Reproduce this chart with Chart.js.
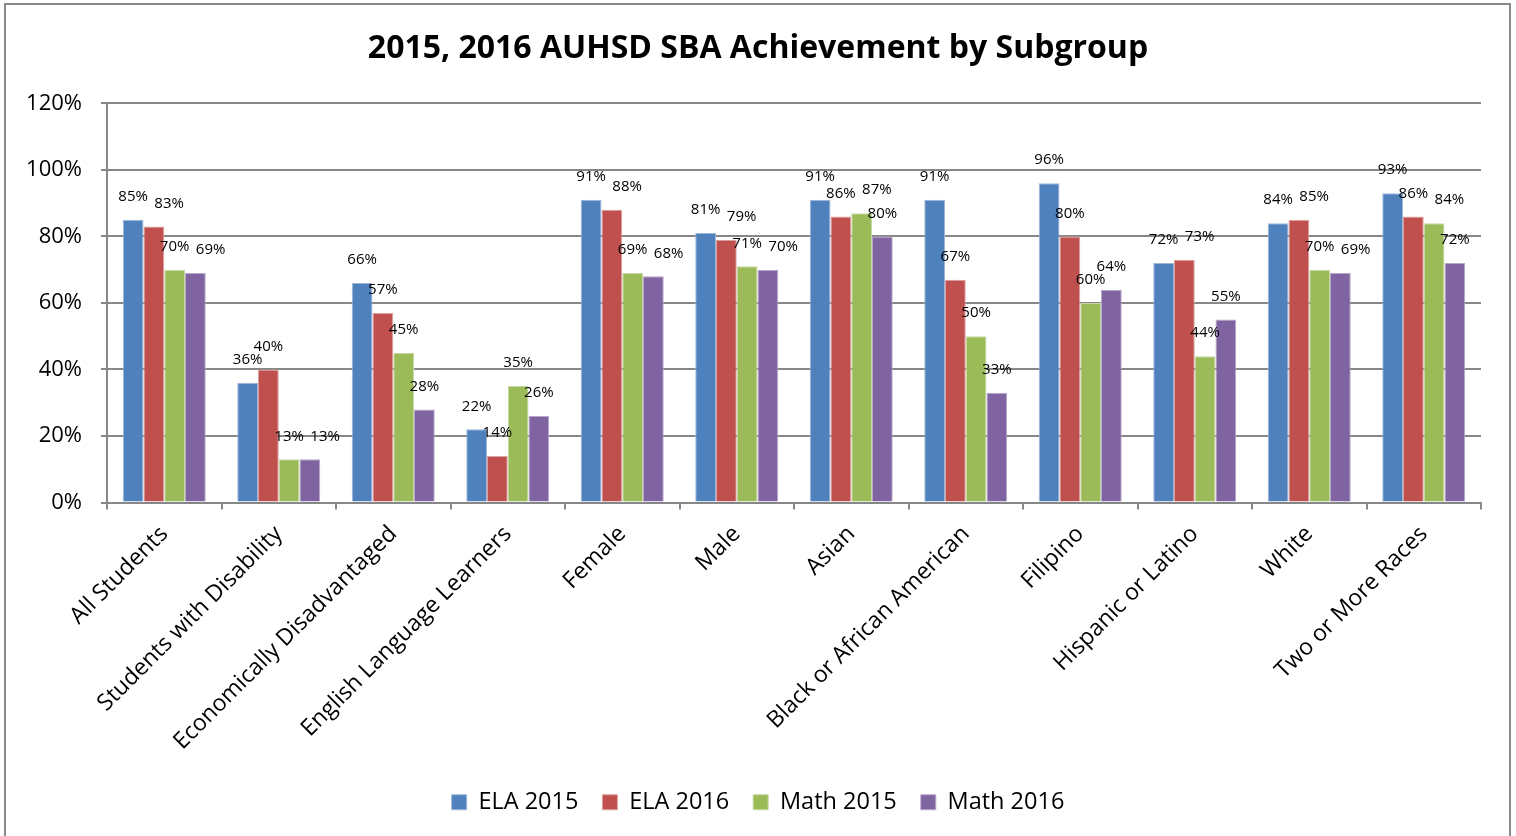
<!DOCTYPE html>
<html>
<head>
<meta charset="utf-8">
<script src="https://cdn.jsdelivr.net/npm/chart.js@4.4.1/dist/chart.umd.min.js"></script>
<style>
html,body{margin:0;padding:0;background:#fff;}
#wrap{width:1516px;height:836px;position:relative;}
</style>
</head>
<body>
<div id="wrap"><canvas id="c" width="1516" height="836"></canvas></div>
<script>
const categories = ["All Students","Students with Disability","Economically Disadvantaged","English Language Learners","Female","Male","Asian","Black or African American","Filipino","Hispanic or Latino","White","Two or More Races"];
const ela2015  = [85,36,66,22,91,81,91,91,96,72,84,93];
const ela2016  = [83,40,57,14,88,79,86,67,80,73,85,86];
const math2015 = [70,13,45,35,69,71,87,50,60,44,70,84];
const math2016 = [69,13,28,26,68,70,80,33,64,55,69,72];
const seriesNames = ["ELA 2015","ELA 2016","Math 2015","Math 2016"];
const yTicks = [0,20,40,60,80,100,120];

const colors = ['#4F81BD','#C0504D','#9BBB59','#8064A2'];
const borders = ['#9DB6D8','#DCA2A0','#C6D9A4','#B7A7CA'];
const FONT = '"Open Sans", sans-serif';
const GRID = '#878787';

const frame = {
  id:'frame',
  beforeDraw(chart){
    const c = chart.ctx;
    c.save();
    c.fillStyle='#fff';
    c.fillRect(0,0,chart.width,chart.height);
    c.strokeStyle='#8a8a8a';
    c.lineWidth=2;
    c.strokeRect(5,4,1505,850);
    c.restore();
  }
};

// Value labels above bars; a label that would overlap the previous label
// in its group is pushed to the right (as in the original layout).
const labelPlugin = {
  id:'valueLabels',
  afterDatasetsDraw(chart){
    const c = chart.ctx;
    c.save();
    c.font = '15px ' + FONT;
    c.fillStyle = '#000';
    c.textAlign = 'center';
    c.textBaseline = 'middle';
    const n = chart.data.labels.length;
    const dsCount = chart.data.datasets.length;
    for (let i = 0; i < n; i++) {
      const placed = [];
      for (let di = 0; di < dsCount; di++) {
        const ds = chart.data.datasets[di];
        const bar = chart.getDatasetMeta(di).data[i];
        const txt = ds.data[i] + '%';
        let x = bar.x;
        const y = bar.y - 23;
        placed.forEach(p => {
          if (Math.abs(p.y - y) < 12 && x < p.x + 36) x = p.x + 36;
        });
        placed.push({x, y});
        c.fillText(txt, x, y);
      }
    }
    c.restore();
  }
};

new Chart(document.getElementById('c'), {
  type:'bar',
  data:{
    labels:categories,
    datasets:[ela2015,ela2016,math2015,math2016].map((d,i)=>({
      label:seriesNames[i],
      data:d,
      backgroundColor:colors[i],
      borderColor:borders[i],
      borderWidth:1,
      barPercentage:1,
      categoryPercentage:0.725
    }))
  },
  options:{
    responsive:false,
    animation:false,
    devicePixelRatio:1,
    layout:{padding:{left:0,right:0,top:0,bottom:12}},
    plugins:{
      title:{
        display:true,
        text:'2015, 2016 AUHSD SBA Achievement by Subgroup',
        color:'#000',
        font:{family:FONT,size:32,weight:'bold'},
        padding:{top:30,bottom:35}
      },
      legend:{
        position:'bottom',
        labels:{
          color:'#000',
          font:{family:FONT,size:23.5},
          boxWidth:15,
          boxHeight:15,
          padding:24
        }
      },
      tooltip:{enabled:false}
    },
    scales:{
      x:{
        offset:true,
        grid:{offset:true,drawOnChartArea:false,drawTicks:true,tickLength:7,color:GRID,lineWidth:2},
        border:{display:true,color:GRID,width:2},
        ticks:{
          color:'#000',
          font:{family:FONT,size:23},
          maxRotation:45,minRotation:45,
          autoSkip:false,
          padding:11
        },
        afterFit(s){ s.height = 264; }
      },
      y:{
        min:0,max:120,
        afterBuildTicks(s){ s.ticks = yTicks.map(v=>({value:v})); },
        grid:{color:GRID,lineWidth:2,tickLength:6},
        border:{display:true,color:GRID,width:2},
        ticks:{
          color:'#000',
          font:{family:FONT,size:22},
          padding:19,
          callback:v=>v+'%'
        },
        afterFit(s){ s.width = 107; }
      },
      yRight:{
        position:'right',
        min:0,max:120,
        grid:{display:false,drawTicks:false},
        border:{display:false},
        ticks:{display:false},
        afterFit(s){ s.width = 35; }
      }
    }
  },
  plugins:[frame,labelPlugin]
});
</script>
</body>
</html>
